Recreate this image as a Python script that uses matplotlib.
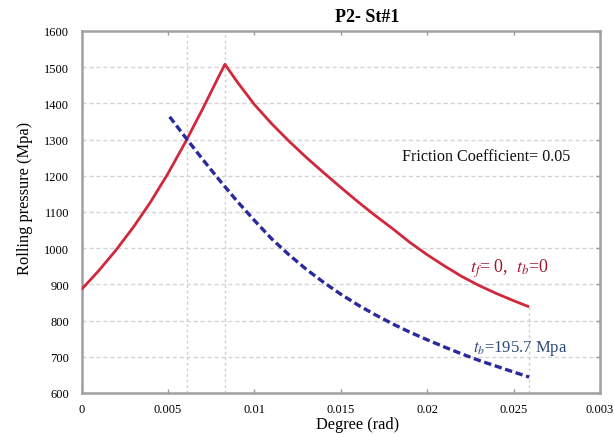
import matplotlib
matplotlib.use("Agg")
import matplotlib.pyplot as plt

# ---- data ----
red_x = [0.0, 0.001, 0.002, 0.003, 0.004, 0.005, 0.006, 0.007, 0.008, 0.0083,
         0.009, 0.010, 0.011, 0.012, 0.013, 0.014, 0.015, 0.016, 0.017,
         0.018, 0.019, 0.020, 0.021, 0.022, 0.023, 0.024, 0.025, 0.0259]
red_y = [886, 938, 995, 1058, 1128, 1206, 1292, 1384, 1480, 1508,
         1460, 1397, 1344, 1296, 1251, 1209, 1168, 1128, 1090,
         1054, 1016, 982, 951, 922, 897, 875, 855, 838]

blue_x = [0.0051, 0.006, 0.007, 0.008, 0.009, 0.010, 0.011, 0.012, 0.013,
          0.014, 0.015, 0.016, 0.017, 0.018, 0.019, 0.020, 0.021, 0.022,
          0.023, 0.024, 0.025, 0.0259]
blue_y = [1363, 1307, 1246, 1187, 1130, 1077, 1026, 982, 942,
          906, 873, 843, 816, 791, 768, 747, 727, 708,
          690, 674, 658, 644]

x_ticks = [0, 0.005, 0.01, 0.015, 0.02, 0.025, 0.03]
x_tick_labels = ["0", "0.005", "0.01", "0.015", "0.02", "0.025", "0.003"]
y_ticks = [600, 700, 800, 900, 1000, 1100, 1200, 1300, 1400, 1500, 1600]

cross_x = 0.0061
peak_x = 0.0083
end_x = 0.0259
end_red_y = 838

title = "P2- St#1"
x_label = "Degree (rad)"
y_label = "Rolling pressure (Mpa)"
note = "Friction Coefficient= 0.05"
red_label = "$t_f$= 0,  $t_b$=0"
blue_label = "$t_b$=195.7 Mpa"

# ---- style ----
plt.rcParams["font.family"] = ["Liberation Serif", "DejaVu Serif"]
plt.rcParams["mathtext.fontset"] = "stix"

fig = plt.figure(figsize=(6.14, 4.35), dpi=100)
ax = fig.add_axes([81.5 / 614, 1 - 394 / 435, (600 - 81.5) / 614, (394 - 32) / 435])

ax.set_xlim(0, 0.03)
ax.set_ylim(600, 1600)

# horizontal dashed grid
for yv in y_ticks[1:-1]:
    ax.axhline(yv, color="#d4d4d4", lw=1.0, ls=(0, (3, 2)), zorder=1)

# vertical dotted reference lines
ax.axvline(cross_x, color="#d0d0d0", lw=1.0, ls=(0, (2, 2)), zorder=1)
ax.axvline(peak_x, color="#d0d0d0", lw=1.0, ls=(0, (2, 2)), zorder=1)
ax.plot([end_x, end_x], [600, end_red_y], color="#d0d0d0", lw=1.0, ls=(0, (2, 2)), zorder=1)

ax.plot(red_x, red_y, color="#d0283c", lw=2.0, zorder=3, solid_capstyle="butt")
ax.plot(blue_x, blue_y, color="#2a2a9c", lw=2.4, ls=(0, (2.2, 1.1)), zorder=3)

ax.set_xticks(x_ticks)
ax.set_xticklabels(x_tick_labels)
ax.set_yticks(y_ticks)

for s in ax.spines.values():
    s.set_color("#a0a0a0")
    s.set_linewidth(1.8)

ax.tick_params(axis="x", direction="in", length=3, width=1, color="#9a9a9a",
               labelsize=9, pad=7, top=True, labeltop=False)
ax.tick_params(axis="y", direction="in", length=3, width=1, color="#9a9a9a",
               labelsize=9, pad=9, left=False, right=True, labelright=False)

fig.text(358 / 614, 1 - 425 / 435, x_label, ha="center", va="center", fontsize=11.8)
fig.text(25 / 614, 1 - 198 / 435, y_label, ha="center", va="center", rotation=90, fontsize=11.8)
fig.text(367 / 614, 1 - 18 / 435, title, ha="center", va="center", fontsize=13, fontweight="bold")

ax.text(0.01857, 1255, note, ha="left", va="center", fontsize=11.6, color="#111111")
ax.text(0.0225, 945, red_label, ha="left", va="center", fontsize=13, color="#a01830")
ax.text(0.02268, 727, blue_label, ha="left", va="center", fontsize=12, color="#2e4a78")

fig.savefig("out.png", dpi=100)
